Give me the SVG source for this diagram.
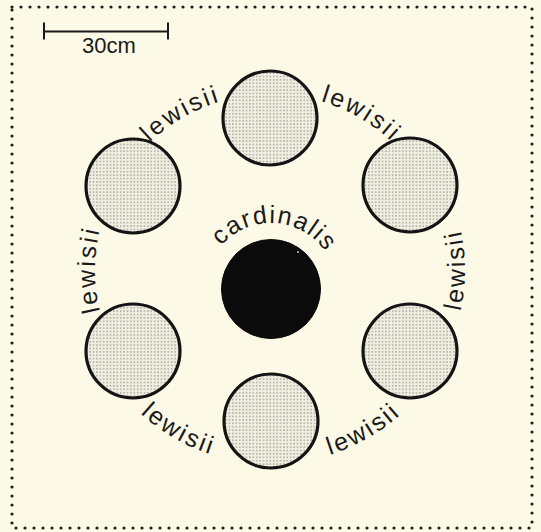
<svg xmlns="http://www.w3.org/2000/svg" width="541" height="532" viewBox="0 0 541 532">
<style>
.lbl{font-family:"Liberation Sans",Arial,sans-serif;font-size:25px;letter-spacing:2.4px;fill:#1a1a1a}
.plant{fill:url(#stip);stroke:#141414;stroke-width:3.2}
.dark{fill:#0b0b0b;stroke:#0b0b0b;stroke-width:1}
</style>
<defs>
<pattern id="stip" width="3.4" height="3.4" patternUnits="userSpaceOnUse">
<rect width="3.4" height="3.4" fill="#efeee1"/>
<circle cx="1.7" cy="1.7" r="0.8" fill="#a3a196"/>
</pattern>
<path id="pL" d="M136.2,383.1 A176,176 0 0 1 136.2,156.9"/>
<path id="pTL" d="M105.6,209.8 A176,176 0 0 1 301.6,96.7"/>
<path id="pTR" d="M240.4,96.7 A176,176 0 0 1 436.4,209.8"/>
<path id="pR" d="M419.6,394.7 A194,194 0 0 0 419.6,145.3"/>
<path id="pBR" d="M237.3,461.1 A194,194 0 0 0 453.3,336.4"/>
<path id="pBL" d="M88.7,336.4 A194,194 0 0 0 304.7,461.1"/>
<path id="pC" d="M205,289 A66,66 0 0 1 337,289"/>
</defs>
<rect width="541" height="532" fill="#fcfae6"/>
<rect x="12" y="7" width="520" height="521" fill="none" stroke="#1e1e1e" stroke-width="3.2" stroke-linecap="round" stroke-dasharray="0 9"/>
<g id="scale">
<line x1="44" y1="31.5" x2="168" y2="31.5" stroke="#1a1a1a" stroke-width="2.2"/>
<line x1="44" y1="22.5" x2="44" y2="39.5" stroke="#1a1a1a" stroke-width="2"/>
<line x1="168" y1="22.5" x2="168" y2="39.5" stroke="#1a1a1a" stroke-width="2"/>
<text x="82" y="53" font-family="'Liberation Sans',Arial,sans-serif" font-size="22" fill="#1a1a1a">30cm</text>
</g>
<g id="n-top"><circle class="plant" cx="270" cy="118" r="47"/></g>
<g id="n-topleft"><circle class="plant" cx="133" cy="186" r="47"/></g>
<g id="n-topright"><circle class="plant" cx="410" cy="185" r="47"/></g>
<g id="n-lowleft"><circle class="plant" cx="133" cy="351" r="47"/></g>
<g id="n-lowright"><circle class="plant" cx="410" cy="351" r="47"/></g>
<g id="n-bottom"><circle class="plant" cx="271" cy="421" r="47"/></g>
<g id="n-center"><circle class="dark" cx="271" cy="289" r="49.5"/><circle cx="298" cy="252" r="1" fill="#bbb"/></g>
<g id="labels">
<text class="lbl"><textPath href="#pL" startOffset="50%" text-anchor="middle">lewisii</textPath></text>
<text class="lbl"><textPath href="#pTL" startOffset="50%" text-anchor="middle">lewisii</textPath></text>
<text class="lbl"><textPath href="#pTR" startOffset="50%" text-anchor="middle">lewisii</textPath></text>
<text class="lbl"><textPath href="#pR" startOffset="50%" text-anchor="middle">lewisii</textPath></text>
<text class="lbl"><textPath href="#pBR" startOffset="50%" text-anchor="middle">lewisii</textPath></text>
<text class="lbl"><textPath href="#pBL" startOffset="50%" text-anchor="middle">lewisii</textPath></text>
<text class="lbl" style="letter-spacing:1.6px"><textPath href="#pC" startOffset="52%" text-anchor="middle">cardinalis</textPath></text>
</g>
</svg>
